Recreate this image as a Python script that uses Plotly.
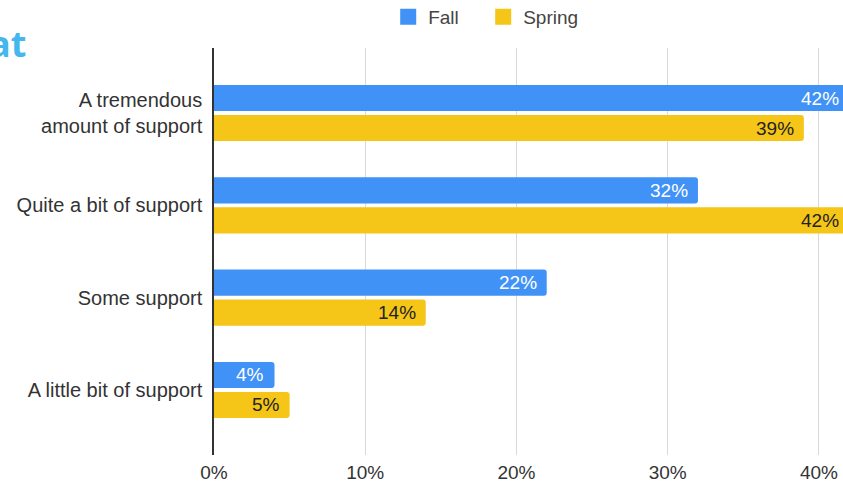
import plotly.graph_objects as go

categories = ["A tremendous<br>amount of support", "Quite a bit of support", "Some support", "A little bit of support"]
fall = [42, 32, 22, 4]
spring = [39, 42, 14, 5]
tick_vals = [0, 10, 20, 30, 40]
tick_text = ["0%", "10%", "20%", "30%", "40%"]

FALL_COLOR = "#4192f6"
SPRING_COLOR = "#f5c518"
FONT = "Liberation Sans, Arial, sans-serif"
XMAX = 41.59

fig = go.Figure()
fig.add_trace(go.Bar(
    y=categories, x=fall, name="Fall", orientation="h",
    marker=dict(color=FALL_COLOR, line=dict(width=0)), showlegend=False,
))
fig.add_trace(go.Bar(
    y=categories, x=spring, name="Spring", orientation="h",
    marker=dict(color=SPRING_COLOR, line=dict(width=0)), showlegend=False,
))
# legend entries (bigger square swatches)
for nm, col in [("Fall", FALL_COLOR), ("Spring", SPRING_COLOR)]:
    fig.add_trace(go.Scatter(x=[None], y=[None], mode="markers", name=nm,
                             marker=dict(symbol="square", size=16, color=col)))

annotations = []
for vals, shift, col in [(fall, 15, "white"), (spring, -15, "#222222")]:
    for cat, v in zip(categories, vals):
        annotations.append(dict(
            x=v / XMAX, y=cat, xref="paper", yref="y", text=f"{v}%", showarrow=False,
            xanchor="right", yanchor="middle", xshift=-8, yshift=shift,
            font=dict(size=19, color=col, family=FONT)))

annotations.append(dict(text="<b>at</b>", xref="paper", yref="paper",
                        x=(28 - 214) / 629, y=(455 - 44) / 407,
                        xanchor="right", yanchor="middle", showarrow=False,
                        font=dict(size=36, color="#45b6ee", family="Open Sans, sans-serif")))

fig.update_layout(
    width=843, height=486,
    margin=dict(l=214, r=0, t=48, b=31, autoexpand=False),
    paper_bgcolor="white", plot_bgcolor="white",
    barmode="group", bargap=0.35, bargroupgap=0.13, barcornerradius=3,
    font=dict(family=FONT, size=19, color="#333333"),
    showlegend=True,
    legend=dict(orientation="h", xref="container", yref="container",
                x=0.4605, y=1 - 17 / 486, xanchor="left", yanchor="middle",
                font=dict(size=19, color="#444444"), itemwidth=30,
                entrywidth=50, entrywidthmode="pixels"),
    xaxis=dict(range=[0, XMAX], tickvals=tick_vals, ticktext=tick_text,
               showgrid=True, gridcolor="#d9d9d9", gridwidth=1, zeroline=False,
               showline=False, ticks="", ticklabelstandoff=4,
               tickfont=dict(size=19, color="#333333"),
               automargin=False, fixedrange=True),
    yaxis=dict(type="category", categoryorder="array", categoryarray=categories,
               range=[3.705, -0.705], showline=True, linecolor="#333333", linewidth=1.5,
               ticks="", ticklabelstandoff=6, tickfont=dict(size=20, color="#333333"),
               showgrid=False, automargin=False),
    annotations=annotations,
)

fig.write_html("out.html", config={"displayModeBar": False},
               post_script="document.body.style.margin='0';")
